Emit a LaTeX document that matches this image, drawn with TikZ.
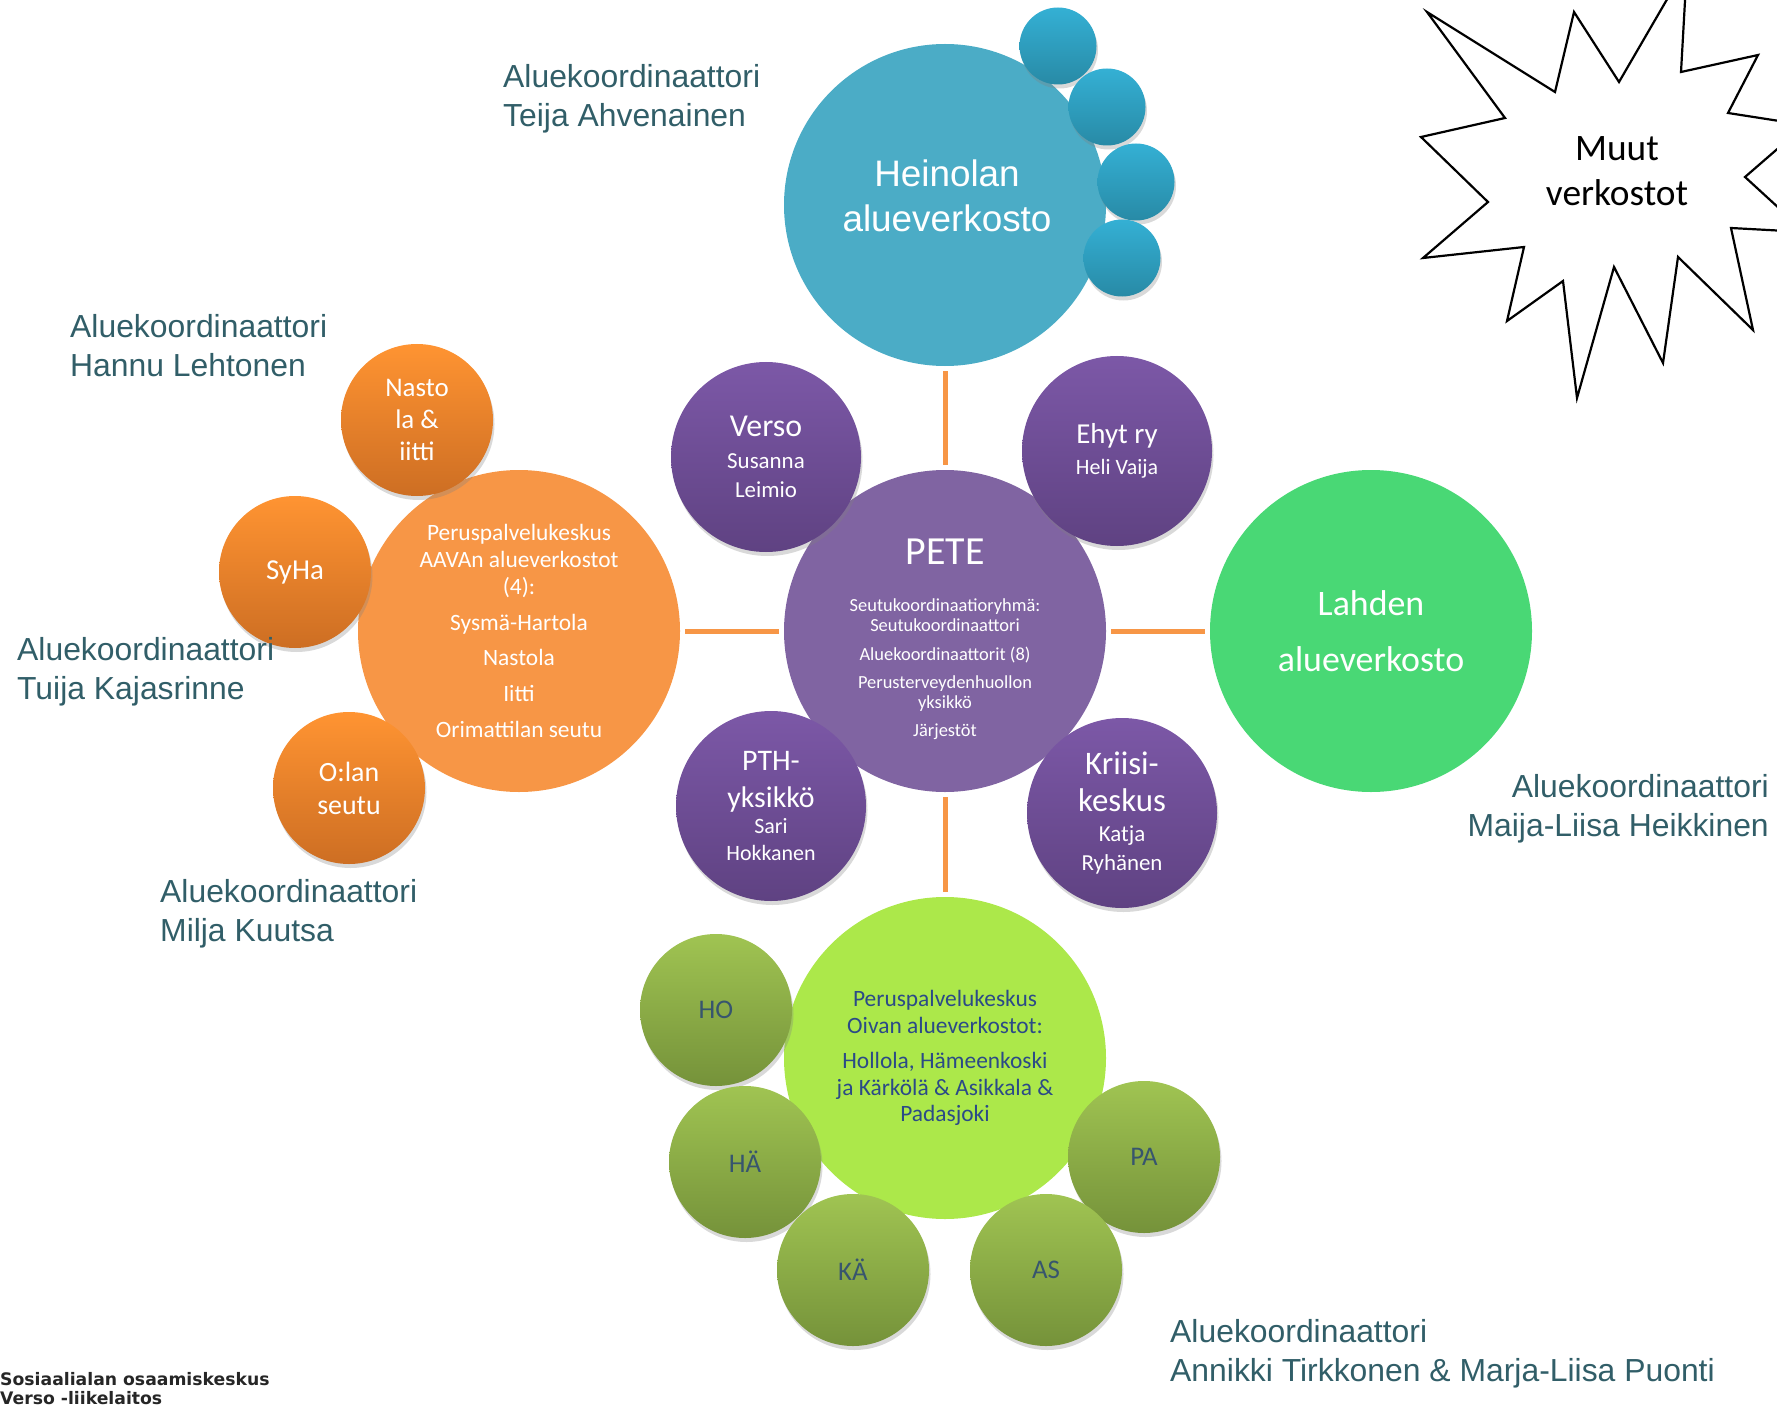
\documentclass[tikz,border=0pt]{standalone}
\usepackage{fontspec}
\setmainfont{Carlito}
\newfontfamily\arialfont{Liberation Sans}
\newfontfamily\footfont{DejaVu Sans}
\usetikzlibrary{shadows}

\definecolor{heicol}{RGB}{75,172,198}
\definecolor{petecol}{RGB}{128,100,162}
\definecolor{aavacol}{RGB}{247,150,70}
\definecolor{lahcol}{RGB}{73,216,117}
\definecolor{oivacol}{RGB}{172,232,74}
\definecolor{linkcol}{RGB}{247,150,70}
\definecolor{labcol}{RGB}{49,94,104}
\definecolor{oivatext}{RGB}{43,74,135}
\definecolor{greentext}{RGB}{55,85,110}

\begin{document}
\begin{tikzpicture}[x=1bp,y=-1bp,
    every node/.style={inner sep=0pt, align=center, text=white},
    big/.style={circle, minimum size=322bp},
    dot/.style={circle, minimum size=#1,
      drop shadow={shadow xshift=1.5bp, shadow yshift=-4bp, opacity=.3}},
    bluedot/.style={dot=77bp, top color={rgb,255:red,52;green,176;blue,212},
      bottom color={rgb,255:red,40;green,138;blue,166}},
    purpledot/.style={dot=190bp, top color={rgb,255:red,124;green,88;blue,167},
      bottom color={rgb,255:red,95;green,66;blue,130}},
    orangedot/.style={dot=152bp, top color={rgb,255:red,255;green,148;blue,50},
      bottom color={rgb,255:red,205;green,110;blue,35}},
    greendot/.style={dot=152bp, top color={rgb,255:red,160;green,196;blue,82},
      bottom color={rgb,255:red,117;green,146;blue,58},
      text=greentext, font=\fontsize{27}{32}\selectfont},
    link/.style={draw=linkcol, line width=5bp, shorten <=5bp, shorten >=5bp},
    coordlabel/.style={text=labcol, font=\arialfont\fontsize{32}{39}\selectfont}]
    \useasboundingbox (0,0) rectangle (1777,1408);

    % Muut verkostot
    \draw[line width=2.2bp, fill=white, line join=miter]
      (1427,12) -- (1555,92) -- (1574,12) -- (1619,82) -- (1687,-35) -- (1681,72)
      -- (1758,55) -- (1728,113) -- (1805,125) -- (1745,177) -- (1805,232)
      -- (1731,228) -- (1753,330) -- (1678,257) -- (1663,363) -- (1614,267)
      -- (1577,398) -- (1563,281) -- (1507,321) -- (1524,247) -- (1423,258)
      -- (1488,202) -- (1421,137) -- (1505,118) -- cycle;
    \node[text=black, font=\fontsize{37.5}{45}\selectfont] (muut) at (1617,171) {Muut\\verkostot};

    % Big circles
    \node[big, fill=heicol] (hein) at (945,205) {};
    \node[font=\arialfont\fontsize{37}{45}\selectfont] (heitext) at (947,196) {Heinolan\\alueverkosto};
    \node[big, fill=petecol, font=\fontsize{18.5}{20}\selectfont] (pete) at (945,631)
      {{\fontsize{40}{44}\selectfont\rule{0pt}{42pt}PETE}\\[28pt]
       Seutukoordinaatioryhmä:\\ Seutukoordinaattori\\[9pt]
       Aluekoordinaattorit (8)\\[8pt]
       Perusterveydenhuollon\\ yksikkö\\[8pt]
       Järjestöt};
    \node[big, fill=aavacol, font=\fontsize{23.5}{27}\selectfont] (aava) at (519,631)
      {Peruspalvelukeskus\\ AAVAn alueverkostot\\ (4):\\[9pt]
       Sysmä-Hartola\\[9pt] Nastola\\[9pt] Iitti\\[9pt] Orimattilan seutu};
    \node[big, fill=lahcol, font=\fontsize{36}{56}\selectfont] (lah) at (1371,631)
      {Lahden\\alueverkosto};
    \node[big, fill=oivacol, text=oivatext, font=\fontsize{23.5}{26.5}\selectfont] (oiva) at (945,1058)
      {Peruspalvelukeskus\\ Oivan alueverkostot:\\[9pt]
       Hollola, Hämeenkoski\\ ja Kärkölä \& Asikkala \&\\ Padasjoki};

    % Links
    \draw[link] (hein) -- (pete);
    \draw[link] (aava) -- (pete);
    \draw[link] (pete) -- (lah);
    \draw[link] (pete) -- (oiva);

    % Heinola
    \foreach \p [count=\i] in {(1058,46),(1107,107),(1136,182),(1122,258)}
      \node[bluedot] (hdot\i) at \p {};

    % PETE
    \node[purpledot, font=\fontsize{23}{29}\selectfont] (verso) at (766,457)
      {{\fontsize{32}{36}\selectfont Verso}\\[3pt] Susanna\\ Leimio};
    \node[purpledot, font=\fontsize{22}{29}\selectfont] (ehyt) at (1117,451)
      {{\fontsize{29}{34}\selectfont Ehyt ry}\\[2pt] Heli Vaija};
    \node[purpledot, font=\fontsize{22}{27}\selectfont] (pth) at (771,806)
      {{\fontsize{30}{36}\selectfont PTH-}\\[10pt] {\fontsize{30}{36}\selectfont yksikkö}\\ Sari\\ Hokkanen};
    \node[purpledot, font=\fontsize{23}{29}\selectfont] (kriisi) at (1122,813)
      {{\fontsize{33}{37}\selectfont Kriisi-}\\[8pt] {\fontsize{33}{37}\selectfont keskus}\\[2pt] Katja\\ Ryhänen};

    % AAVA
    \node[orangedot, font=\fontsize{27}{32.5}\selectfont] (nast) at (417,420) {Nasto\\ la \&\\ iitti};
    \node[orangedot, font=\fontsize{29}{34}\selectfont] (syha) at (295,572) {SyHa};
    \node[orangedot, font=\fontsize{28}{33}\selectfont] (olan) at (349,788) {O:lan\\ seutu};

    % Oiva
    \node[greendot] (ho) at (716,1010) {HO};
    \node[greendot] (ha) at (745,1162) {HÄ};
    \node[greendot] (ka) at (853,1270) {KÄ};
    \node[greendot] (pa) at (1144,1157) {PA};
    \node[greendot] (as) at (1046,1270) {AS};

    % Aluekoordinaattorit
    \node[coordlabel, anchor=west, align=left] (teija) at (503,99) {Aluekoordinaattori\\Teija Ahvenainen};
    \node[coordlabel, anchor=west, align=left] (hannu) at (70,346) {Aluekoordinaattori\\Hannu Lehtonen};
    \node[coordlabel, anchor=west, align=left] (tuija) at (17,672) {Aluekoordinaattori\\Tuija Kajasrinne};
    \node[coordlabel, anchor=west, align=left] (milja) at (160,914) {Aluekoordinaattori\\Milja Kuutsa};
    \node[coordlabel, anchor=east, align=right] (maija) at (1769,809) {Aluekoordinaattori\\Maija-Liisa Heikkinen};
    \node[coordlabel, anchor=west, align=left] (annikki) at (1170,1354) {Aluekoordinaattori\\Annikki Tirkkonen \& Marja-Liisa Puonti};

    % Footer
    \node[anchor=south west, align=left, text=black!85, font=\footfont\bfseries\fontsize{17.3}{19}\selectfont]
      (verso-foot) at (0,1405) {Sosiaalialan osaamiskeskus\\Verso -liikelaitos};
\end{tikzpicture}
\end{document}
